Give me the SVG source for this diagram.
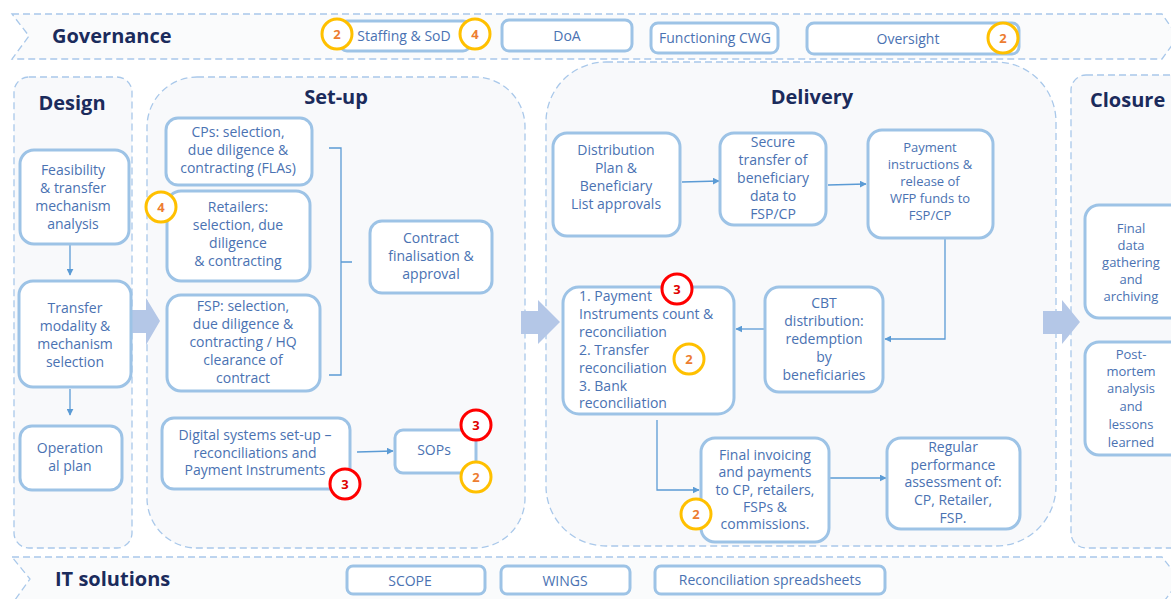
<svg xmlns="http://www.w3.org/2000/svg" width="1171" height="599" viewBox="0 0 1171 599">
<defs>
<style>
.band{fill:#fafbfc;stroke:#a9c8ea;stroke-width:1.3;stroke-dasharray:7 4}
.panel{fill:#f8f9fb;stroke:#a9c8ea;stroke-width:1.3;stroke-dasharray:7 4}
.node{fill:#ffffff;stroke:#9dc3e6;stroke-width:3}
.t{font-family:"Open Sans","Liberation Sans",sans-serif;font-size:14px;fill:#4a72b2;text-anchor:middle}
.ts{font-family:"Open Sans","Liberation Sans",sans-serif;font-size:13px;fill:#4a72b2;text-anchor:middle}
.tl{font-family:"Open Sans","Liberation Sans",sans-serif;font-size:14px;fill:#4a72b2;text-anchor:start}
.title{font-family:"Open Sans","Liberation Sans",sans-serif;font-size:20px;font-weight:bold;fill:#1b2b5c}
.conn{fill:none;stroke:#5b9bd5;stroke-width:1.3}
.fat{fill:#b4c7e7}
.by{fill:#ffffff;stroke:#ffc000;stroke-width:3}
.br{fill:#ffffff;stroke:#ff0000;stroke-width:3}
.byt{font-family:"Open Sans","Liberation Sans",sans-serif;font-size:13px;font-weight:bold;fill:#ed7d31;text-anchor:middle}
.brt{font-family:"Open Sans","Liberation Sans",sans-serif;font-size:13px;font-weight:bold;fill:#e00000;text-anchor:middle}
</style>
<marker id="ah" viewBox="0 0 10 10" refX="9" refY="5" markerWidth="7" markerHeight="7" orient="auto-start-reverse" markerUnits="userSpaceOnUse">
<path d="M0,0 L10,5 L0,10 z" fill="#5b9bd5"/>
</marker>
</defs>
<rect width="1171" height="599" fill="#ffffff"/>

<g id="governance-band">
<path class="band" d="M12,14 L1162,14 L1178,37 L1162,59 L12,59 L29,36 Z"/>
<text class="title" x="52" y="43">Governance</text>
</g>
<g id="it-band">
<path class="band" d="M12,557 L1162,557 L1180,580 L1162,604 L12,604 L30,579 Z"/>
<text class="title" x="55" y="586">IT solutions</text>
</g>

<g id="panel-design">
<rect class="panel" x="14" y="77" width="118" height="471" rx="15"/>
<text class="title" x="72" y="110" text-anchor="middle">Design</text>
</g>
<g id="panel-setup">
<rect class="panel" x="147" y="77" width="378" height="471" rx="50"/>
<text class="title" x="336" y="104" text-anchor="middle">Set-up</text>
</g>
<g id="panel-delivery">
<rect class="panel" x="546" y="62" width="510" height="484" rx="60"/>
<text class="title" x="812" y="104" text-anchor="middle">Delivery</text>
</g>
<g id="panel-closure">
<rect class="panel" x="1071" y="75" width="120" height="473" rx="15"/>
<text class="title" x="1090" y="107">Closure</text>
</g>

<g id="fat-arrows">
<path class="fat" d="M131,310 L146,310 L146,298 L160,321 L146,345 L146,333 L131,333 Z"/>
<path class="fat" d="M521,311 L538,311 L538,300 L560,322 L538,344 L538,334 L521,334 Z"/>
<path class="fat" d="M1043,311 L1062,311 L1062,300 L1080,322 L1062,344 L1062,334 L1043,334 Z"/>
</g>

<g id="connectors">
<line class="conn" x1="70" y1="245" x2="70" y2="275" marker-end="url(#ah)"/>
<line class="conn" x1="70" y1="389" x2="70" y2="415" marker-end="url(#ah)"/>
<path class="conn" d="M329,148 L341,148 L341,375 L329,375 M341,262 L352,262"/>
<line class="conn" x1="357" y1="452" x2="393" y2="451" marker-end="url(#ah)"/>
<line class="conn" x1="682" y1="182" x2="719" y2="181" marker-end="url(#ah)"/>
<line class="conn" x1="828" y1="185" x2="866" y2="184" marker-end="url(#ah)"/>
<path class="conn" d="M945,239 L945,339 L885,339" marker-end="url(#ah)"/>
<line class="conn" x1="765" y1="329" x2="736" y2="329" marker-end="url(#ah)"/>
<path class="conn" d="M657,420 L657,490 L699,490" marker-end="url(#ah)"/>
<line class="conn" x1="830" y1="478" x2="886" y2="478" marker-end="url(#ah)"/>
</g>

<g id="gov-staffing">
<rect class="node" x="340" y="21" width="130" height="30" rx="7"/>
<text class="t" x="404" y="41">Staffing &amp; SoD</text>
<circle class="by" cx="337" cy="34" r="15"/><text class="byt" x="337" y="39">2</text>
<circle class="by" cx="475" cy="34" r="15"/><text class="byt" x="475" y="39">4</text>
</g>
<g id="gov-doa">
<rect class="node" x="502" y="20" width="130" height="31" rx="7"/>
<text class="t" x="567" y="41">DoA</text>
</g>
<g id="gov-cwg">
<rect class="node" x="651" y="23" width="127" height="30" rx="7"/>
<text class="t" x="715" y="43">Functioning CWG</text>
</g>
<g id="gov-oversight">
<rect class="node" x="807" y="23" width="212" height="31" rx="7"/>
<text class="t" x="908" y="44">Oversight</text>
<circle class="by" cx="1003" cy="38" r="15"/><text class="byt" x="1003" y="43">2</text>
</g>

<g id="it-scope">
<rect class="node" x="347" y="566" width="138" height="28" rx="6"/>
<text class="t" x="410" y="586">SCOPE</text>
</g>
<g id="it-wings">
<rect class="node" x="501" y="566" width="129" height="28" rx="6"/>
<text class="t" x="565" y="586">WINGS</text>
</g>
<g id="it-recon">
<rect class="node" x="655" y="566" width="230" height="28" rx="6"/>
<text class="t" x="770" y="585">Reconciliation spreadsheets</text>
</g>

<g id="n-feasibility">
<rect class="node" x="20" y="150" width="109" height="94" rx="14"/>
<text class="t" x="73" y="175">Feasibility</text>
<text class="t" x="73" y="193">&amp; transfer</text>
<text class="t" x="73" y="211">mechanism</text>
<text class="t" x="73" y="229">analysis</text>
</g>
<g id="n-transfer">
<rect class="node" x="19" y="281" width="112" height="106" rx="14"/>
<text class="t" x="75" y="313">Transfer</text>
<text class="t" x="75" y="331">modality &amp;</text>
<text class="t" x="75" y="349">mechanism</text>
<text class="t" x="75" y="367">selection</text>
</g>
<g id="n-opplan">
<rect class="node" x="20" y="426" width="102" height="64" rx="12"/>
<text class="t" x="70" y="453">Operation</text>
<text class="t" x="70" y="471">al plan</text>
</g>

<g id="n-cps">
<rect class="node" x="166" y="118" width="146" height="67" rx="12"/>
<text class="t" x="238" y="137">CPs: selection,</text>
<text class="t" x="238" y="155">due diligence &amp;</text>
<text class="t" x="238" y="173">contracting (FLAs)</text>
</g>
<g id="n-retailers">
<rect class="node" x="167" y="191" width="143" height="90" rx="14"/>
<text class="t" x="238" y="212">Retailers:</text>
<text class="t" x="238" y="230">selection, due</text>
<text class="t" x="238" y="248">diligence</text>
<text class="t" x="238" y="266">&amp; contracting</text>
<circle class="by" cx="161" cy="207" r="15"/><text class="byt" x="161" y="212">4</text>
</g>
<g id="n-fsp">
<rect class="node" x="167" y="295" width="153" height="96" rx="14"/>
<text class="t" x="243" y="311">FSP: selection,</text>
<text class="t" x="243" y="329">due diligence &amp;</text>
<text class="t" x="243" y="347">contracting / HQ</text>
<text class="t" x="243" y="365">clearance of</text>
<text class="t" x="243" y="383">contract</text>
</g>
<g id="n-contract">
<rect class="node" x="370" y="221" width="122" height="72" rx="12"/>
<text class="t" x="431" y="243">Contract</text>
<text class="t" x="431" y="261">finalisation &amp;</text>
<text class="t" x="431" y="279">approval</text>
</g>
<g id="n-digital">
<rect class="node" x="162" y="418" width="188" height="71" rx="12"/>
<text class="t" x="255" y="440">Digital systems set-up –</text>
<text class="t" x="255" y="458">reconciliations and</text>
<text class="t" x="255" y="475">Payment Instruments</text>
<circle class="br" cx="345" cy="484" r="15"/><text class="brt" x="345" y="489">3</text>
</g>
<g id="n-sops">
<rect class="node" x="395" y="430" width="81" height="43" rx="8"/>
<text class="t" x="434" y="455">SOPs</text>
<circle class="br" cx="476" cy="425" r="15"/><text class="brt" x="476" y="430">3</text>
<circle class="by" cx="476" cy="477" r="15"/><text class="byt" x="476" y="482">2</text>
</g>

<g id="n-distribution">
<rect class="node" x="553" y="133" width="127" height="103" rx="14"/>
<text class="t" x="616" y="155">Distribution</text>
<text class="t" x="616" y="173">Plan &amp;</text>
<text class="t" x="616" y="191">Beneficiary</text>
<text class="t" x="616" y="209">List approvals</text>
</g>
<g id="n-secure">
<rect class="node" x="720" y="133" width="106" height="92" rx="14"/>
<text class="t" x="773" y="147">Secure</text>
<text class="t" x="773" y="165">transfer of</text>
<text class="t" x="773" y="183">beneficiary</text>
<text class="t" x="773" y="201">data to</text>
<text class="t" x="773" y="219">FSP/CP</text>
</g>
<g id="n-payment">
<rect class="node" x="868" y="130" width="125" height="108" rx="14"/>
<text class="ts" x="930" y="152">Payment</text>
<text class="ts" x="930" y="169">instructions &amp;</text>
<text class="ts" x="930" y="186">release of</text>
<text class="ts" x="930" y="203">WFP funds to</text>
<text class="ts" x="930" y="220">FSP/CP</text>
</g>
<g id="n-cbt">
<rect class="node" x="765" y="287" width="118" height="105" rx="14"/>
<text class="t" x="824" y="308">CBT</text>
<text class="t" x="824" y="326">distribution:</text>
<text class="t" x="824" y="344">redemption</text>
<text class="t" x="824" y="362">by</text>
<text class="t" x="824" y="380">beneficiaries</text>
</g>
<g id="n-reconciliation">
<rect class="node" x="563" y="287" width="171" height="127" rx="16"/>
<text class="tl" x="579" y="301">1. Payment</text>
<text class="tl" x="579" y="319">Instruments count &amp;</text>
<text class="tl" x="579" y="337">reconciliation</text>
<text class="tl" x="579" y="355">2. Transfer</text>
<text class="tl" x="579" y="373">reconciliation</text>
<text class="tl" x="579" y="391">3. Bank</text>
<text class="tl" x="579" y="408">reconciliation</text>
<circle class="br" cx="677" cy="289" r="15"/><text class="brt" x="677" y="294">3</text>
<circle class="by" cx="689" cy="359" r="15"/><text class="byt" x="689" y="364">2</text>
</g>
<g id="n-invoicing">
<rect class="node" x="701" y="438" width="128" height="104" rx="14"/>
<text class="t" x="765" y="460">Final invoicing</text>
<text class="t" x="765" y="477">and payments</text>
<text class="t" x="765" y="495">to CP, retailers,</text>
<text class="t" x="765" y="512">FSPs &amp;</text>
<text class="t" x="765" y="529">commissions.</text>
<circle class="by" cx="696" cy="514" r="15"/><text class="byt" x="696" y="519">2</text>
</g>
<g id="n-performance">
<rect class="node" x="887" y="438" width="133" height="91" rx="14"/>
<text class="t" x="953" y="452">Regular</text>
<text class="t" x="953" y="470">performance</text>
<text class="t" x="953" y="487">assessment of:</text>
<text class="t" x="953" y="505">CP, Retailer,</text>
<text class="t" x="953" y="523">FSP.</text>
</g>

<g id="n-finaldata">
<rect class="node" x="1085" y="205" width="100" height="113" rx="14"/>
<text class="ts" x="1131" y="233">Final</text>
<text class="ts" x="1131" y="250">data</text>
<text class="ts" x="1131" y="267">gathering</text>
<text class="ts" x="1131" y="284">and</text>
<text class="ts" x="1131" y="301">archiving</text>
</g>
<g id="n-postmortem">
<rect class="node" x="1085" y="342" width="100" height="113" rx="14"/>
<text class="ts" x="1131" y="359">Post-</text>
<text class="ts" x="1131" y="376">mortem</text>
<text class="ts" x="1131" y="393">analysis</text>
<text class="ts" x="1131" y="411">and</text>
<text class="ts" x="1131" y="429">lessons</text>
<text class="ts" x="1131" y="447">learned</text>
</g>
</svg>
